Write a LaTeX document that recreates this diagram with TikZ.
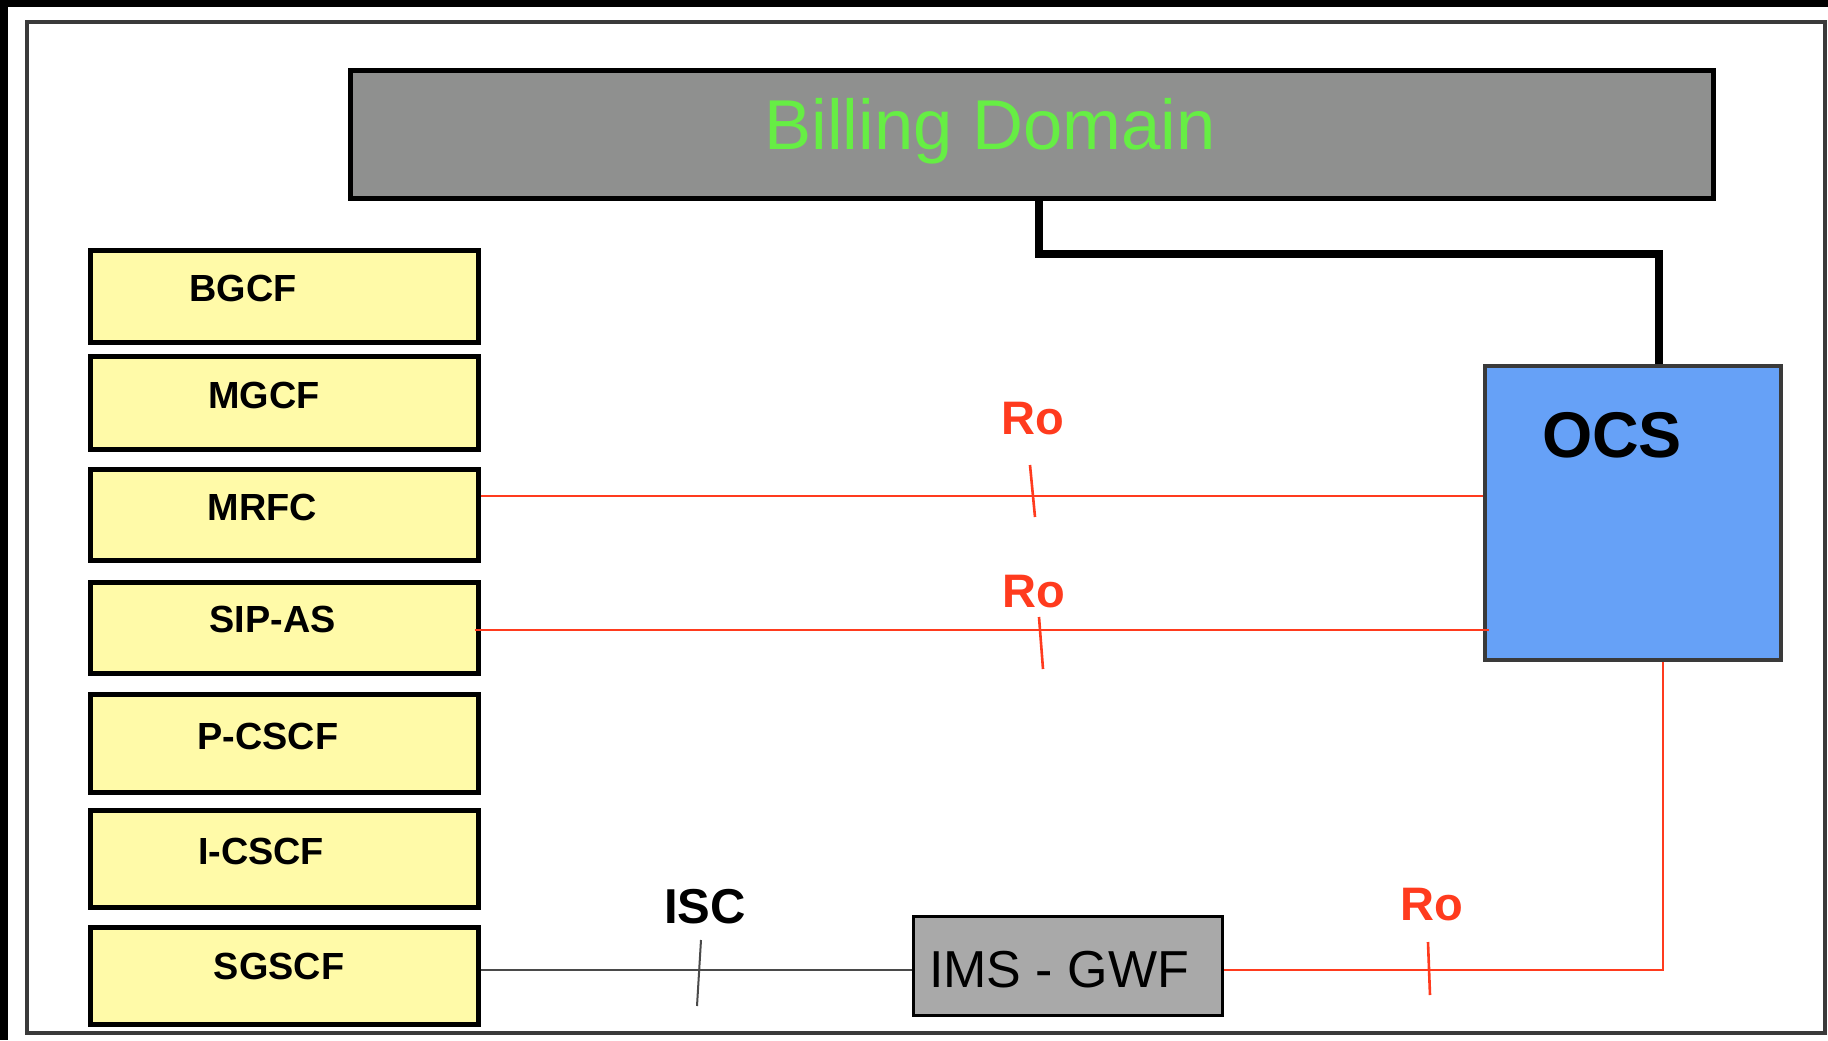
\documentclass[tikz,border=0pt]{standalone}
\usepackage{fontspec}
\setmainfont{Liberation Sans}
\usetikzlibrary{calc}
\definecolor{billgray}{HTML}{8F908F}
\definecolor{billgreen}{HTML}{66EE44}
\definecolor{ocsblue}{HTML}{66A1F7}
\definecolor{boxyellow}{HTML}{FFFAA8}
\definecolor{gwfgray}{HTML}{A9A9A9}
\definecolor{rored}{HTML}{FF3B1E}
\definecolor{framegray}{HTML}{3A3A3A}
\definecolor{iscgray}{HTML}{4A4A4A}
\tikzset{
  ybox/.style={draw=black, line width=2.5pt, fill=boxyellow, minimum width=194pt, inner sep=0pt},
  ylabel/.style={anchor=base, inner sep=0pt, font=\fontsize{18.9}{22}\selectfont\bfseries},
  rolabel/.style={anchor=base, inner sep=0pt, text=rored, font=\fontsize{23.5}{27}\selectfont\bfseries},
  roline/.style={draw=rored, line width=1.3pt},
  iscline/.style={draw=iscgray, line width=1pt},
  thickline/.style={draw=black, line width=4pt}
}
\begin{document}
\begin{tikzpicture}[x=0.5pt,y=-0.5pt]
\useasboundingbox (0,0) rectangle (1828,1040);
\fill[white] (0,0) rectangle (1828,1040);
\fill[black] (0,0) rectangle (1828,7);
\fill[black] (0,0) rectangle (8,1040);
\draw[framegray, line width=2pt] (27,22) rectangle (1825,1033);

% Billing domain
\node[draw=black, line width=2.5pt, fill=billgray, minimum width=681.5pt, minimum height=64pt, inner sep=0pt] (billing) at (1032,134.5) {};
\node[anchor=base, inner sep=0pt, text=billgreen, font=\fontsize{35.3}{40}\selectfont] (billingt) at (990,149) {Billing Domain};

% OCS
\node[draw=framegray, line width=2pt, fill=ocsblue, minimum width=148pt, minimum height=147pt, inner sep=0pt] (ocs) at (1633,513) {};
\node[anchor=base, inner sep=0pt, font=\fontsize{32.3}{38}\selectfont\bfseries] (ocst) at (1612,457) {OCS};

% yellow boxes
\node[ybox, minimum height=46pt] (bgcf) at (284,296.5) {};
\node[ybox, minimum height=46.5pt] (mgcf) at (284,403) {};
\node[ybox, minimum height=45.5pt] (mrfc) at (284,515) {};
\node[ybox, minimum height=45.5pt] (sipas) at (284,628) {};
\node[ybox, minimum height=49pt] (pcscf) at (284,743.5) {};
\node[ybox, minimum height=48.5pt] (icscf) at (284,859) {};
\node[ybox, minimum height=48.5pt] (sgscf) at (284,976) {};
\node[ylabel] (bgcft) at (243,301.5) {BGCF};
\node[ylabel] (mgcft) at (264,408.5) {MGCF};
\node[ylabel] (mrfct) at (262.5,520.5) {MRFC};
\node[ylabel] (sipast) at (272.5,632.5) {SIP-AS};
\node[ylabel] (pcscft) at (268,749.5) {P-CSCF};
\node[ylabel] (icscft) at (261,864.5) {I-CSCF};
\node[ylabel] (sgscft) at (279,979.5) {SGSCF};

% IMS-GWF
\node[draw=black, line width=1.5pt, fill=gwfgray, minimum width=154.5pt, minimum height=49.5pt, inner sep=0pt] (gwf) at (1068,966) {};
\node[anchor=base, inner sep=0pt, font=\fontsize{26}{30}\selectfont] (gwft) at (1059,987) {IMS - GWF};

% connectors
\coordinate (b1) at ($(billing.south)+(7,0)$);
\coordinate (o1) at ($(ocs.north)+(26,0)$);
\draw[thickline] (b1) -- ++(0,53) -| (o1);

\coordinate (r1) at ($(mrfc.east)+(0,-19)$);
\draw[roline] (r1) -- (r1 -| ocs.west);
\coordinate (r2) at ($(sipas.east)+(-6,2)$);
\draw[roline] (r2) -- ($(r2 -| ocs.west)+(6,0)$);
\coordinate (o2) at ($(ocs.south)+(30,0)$);
\draw[roline] ($(gwf.east)+(0,4)$) -| (o2);

\draw[iscline] ($(sgscf.east)+(0,-6)$) -- ($(gwf.west)+(0,4)$);

% ticks
\draw[roline] (1030,465) -- (1035,517);
\draw[roline] (1039,617) -- (1043,669);
\draw[roline] (1428,942) -- (1430,995);
\draw[iscline] (701,940) -- (697,1006);

% labels
\node[rolabel] (ro1) at (1033,434) {Ro};
\node[rolabel] (ro2) at (1034,607) {Ro};
\node[rolabel] (ro3) at (1432,920) {Ro};
\node[anchor=base, inner sep=0pt, font=\fontsize{24.5}{28}\selectfont\bfseries] (isct) at (705,923) {ISC};
\end{tikzpicture}
\end{document}
